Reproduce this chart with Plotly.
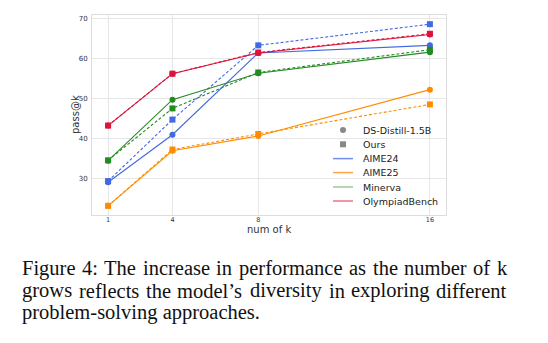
import plotly.graph_objects as go

ks = [1, 4, 8, 16]
datasets = ["AIME24", "AIME25", "Minerva", "OlympiadBench"]
colors = {"AIME24": "#4169E1", "AIME25": "#FF8C00", "Minerva": "#228B22", "OlympiadBench": "#DC143C"}
legend_colors = {"AIME24": "rgba(65,105,225,0.75)", "AIME25": "rgba(255,140,0,0.75)",
                 "Minerva": "rgba(34,139,34,0.45)", "OlympiadBench": "rgba(220,20,60,0.6)"}

ds_distill = {
    "AIME24": [29.0, 40.9, 61.4, 63.3],
    "AIME25": [23.1, 36.9, 40.6, 52.2],
    "Minerva": [34.4, 49.7, 56.3, 61.6],
    "OlympiadBench": [43.2, 56.2, 61.4, 66.0],
}
ours = {
    "AIME24": [29.3, 44.7, 63.3, 68.6],
    "AIME25": [23.1, 37.2, 41.1, 48.5],
    "Minerva": [34.5, 47.5, 56.5, 62.2],
    "OlympiadBench": [43.2, 56.2, 61.5, 66.2],
}

caption_lines = [
    "Figure 4: The increase in performance as the number of k",
    "grows reflects the model\u2019s diversity in exploring different",
    "problem-solving approaches.",
]
caption_justify = [True, True, False]

W, H = 548, 343
L, R, T, B = 92, 446, 15, 215

def px(x):
    return (x - L) / (R - L)

def py(y):
    return (B - y) / (B - T)

# Times (Liberation Serif) advance widths per 1000 em, for justification
TW = {' ': 250, 'F': 556, 'T': 611, 'a': 444, 'b': 500, 'c': 444, 'd': 500, 'e': 444,
      'f': 333, 'g': 500, 'h': 500, 'i': 278, 'k': 500, 'l': 278, 'm': 778, 'n': 500,
      'o': 500, 'p': 500, 'r': 333, 's': 389, 't': 278, 'u': 500, 'v': 500, 'w': 722,
      'x': 500, 'y': 500, '4': 500, ':': 278, '-': 333, '.': 250, '\u2019': 333}

def word_w(w, size):
    return sum(TW.get(c, 500) for c in w) * size / 1000.0

fig = go.Figure()
for d in datasets:
    fig.add_trace(go.Scatter(x=ks, y=ds_distill[d], mode="lines+markers",
                             line=dict(color=colors[d], width=1.1),
                             marker=dict(symbol="circle", size=6, color=colors[d]),
                             showlegend=False))
    fig.add_trace(go.Scatter(x=ks, y=ours[d], mode="lines+markers",
                             line=dict(color=colors[d], width=1.1, dash="3px,2px"),
                             marker=dict(symbol="square", size=6, color=colors[d]),
                             showlegend=False))

shapes = []
annotations = []
leg_font = dict(family="DejaVu Sans", size=9.5, color="#222222")
rows = [130, 144.3, 158.6, 172.6, 187, 201]
labels = ["DS-Distill-1.5B", "Ours"] + datasets
for i, (lab, yy) in enumerate(zip(labels, rows)):
    if i == 0:
        shapes.append(dict(type="circle", xref="paper", yref="paper",
                           x0=px(340), x1=px(346), y0=py(yy + 3), y1=py(yy - 3),
                           fillcolor="#888888", line=dict(width=0)))
    elif i == 1:
        shapes.append(dict(type="rect", xref="paper", yref="paper",
                           x0=px(340), x1=px(346), y0=py(yy + 3), y1=py(yy - 3),
                           fillcolor="#888888", line=dict(width=0)))
    else:
        shapes.append(dict(type="line", xref="paper", yref="paper",
                           x0=px(333), x1=px(353), y0=py(yy), y1=py(yy),
                           line=dict(color=legend_colors[lab], width=1.5)))
    annotations.append(dict(text=lab, xref="paper", yref="paper", x=px(361), y=py(yy),
                            xanchor="left", yanchor="middle", showarrow=False, font=leg_font))

# axis titles
annotations.append(dict(text="pass@k", xref="paper", yref="paper", x=px(75), y=0.5,
                        xanchor="center", yanchor="middle", textangle=-90, showarrow=False,
                        font=dict(family="DejaVu Sans", size=10, color="#333333")))
annotations.append(dict(text="num of k", xref="paper", yref="paper", x=0.5, y=py(229),
                        xanchor="center", yanchor="middle", showarrow=False,
                        font=dict(family="DejaVu Sans", size=10, color="#333333")))

cap_size = 20.5
cap_font = dict(family="Liberation Serif", size=cap_size, color="#111111")
cap_left, cap_right = 20, 505
for line, just, yy in zip(caption_lines, caption_justify, [268, 290.5, 312.5]):
    if not just:
        annotations.append(dict(text=line, xref="paper", yref="paper", x=px(cap_left), y=py(yy),
                                xanchor="left", yanchor="middle", showarrow=False, font=cap_font))
        continue
    words = line.split(" ")
    widths = [word_w(w, cap_size) for w in words]
    gap = (cap_right - cap_left - sum(widths)) / (len(words) - 1)
    x = cap_left
    for w, ww in zip(words, widths):
        annotations.append(dict(text=w, xref="paper", yref="paper", x=px(x), y=py(yy),
                                xanchor="left", yanchor="middle", showarrow=False, font=cap_font))
        x += ww + gap

fig.update_layout(
    width=W, height=H,
    margin=dict(l=L, r=W - R, t=T, b=H - B, pad=0),
    paper_bgcolor="white", plot_bgcolor="white",
    showlegend=False,
    shapes=shapes, annotations=annotations,
    xaxis=dict(range=[0.25, 16.75], tickvals=ks, ticktext=[str(k) for k in ks],
               showgrid=True, gridcolor="#e6e6e6", gridwidth=1, zeroline=False,
               showline=True, mirror=True, linecolor="#dddddd", linewidth=1,
               ticks="", ticklabelstandoff=-2,
               tickfont=dict(family="DejaVu Sans", size=6.5, color="#333333")),
    yaxis=dict(range=[20.8, 70.9], tickvals=[30, 40, 50, 60, 70],
               showgrid=True, gridcolor="#e6e6e6", gridwidth=1, zeroline=False,
               showline=True, mirror=True, linecolor="#dddddd", linewidth=1,
               ticks="", ticklabelstandoff=2,
               tickfont=dict(family="DejaVu Sans", size=7, color="#333333")),
)

fig.write_html("out.html")
